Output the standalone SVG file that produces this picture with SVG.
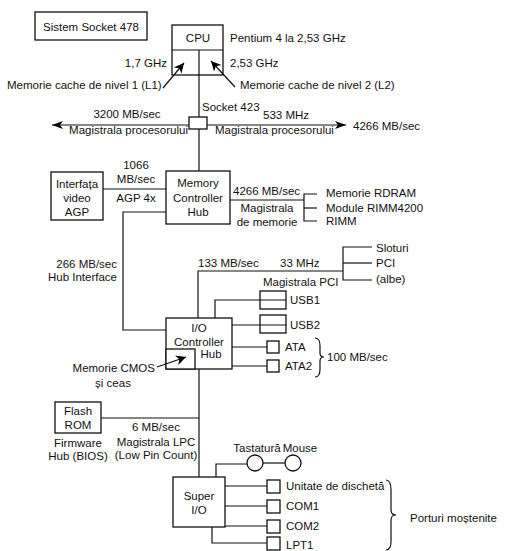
<svg xmlns="http://www.w3.org/2000/svg" width="512" height="551" viewBox="0 0 512 551">
<defs>
<marker id="arr" markerUnits="userSpaceOnUse" markerWidth="12" markerHeight="10" refX="11" refY="4" orient="auto-start-reverse">
<path d="M0,0 L11,4 L0,8 L3,4 z" fill="#000"/>
</marker>
<marker id="arrs" markerUnits="userSpaceOnUse" markerWidth="12" markerHeight="12" refX="10" refY="5" orient="auto">
<path d="M0,0 L10,5 L0,10 L3,5 z" fill="#000"/>
</marker>
<style>
text{font-family:"Liberation Sans",Arial,sans-serif;font-size:11.5px;fill:#111}
.m{text-anchor:middle}
.e{text-anchor:end}
.b{fill:#fff;stroke:#111;stroke-width:1.3}
.o{fill:none;stroke:#111;stroke-width:1.3}
.l{fill:none;stroke:#111;stroke-width:1.2}
</style>
</defs>
<rect width="512" height="551" fill="#fff"/>

<g id="title">
<rect class="b" x="35" y="12" width="112" height="28"/>
<text x="91" y="31" class="m">Sistem Socket 478</text>
</g>

<g id="cpu">
<rect class="b" x="172" y="25" width="51" height="50"/>
<line class="l" x1="172" y1="50" x2="223" y2="50"/>
<line class="l" x1="199" y1="50" x2="199" y2="75"/>
<text x="198" y="42" class="m">CPU</text>
<text x="230" y="42">Pentium 4 la 2,53 GHz</text>
<text x="167" y="67" class="e">1,7 GHz</text>
<text x="230" y="67">2,53 GHz</text>
<text x="7" y="89">Memorie cache de nivel 1 (L1)</text>
<text x="240" y="89">Memorie cache de nivel 2 (L2)</text>
</g>

<g id="socket">
<rect class="b" x="189" y="117" width="18" height="12"/>
<text x="202" y="111">Socket 423</text>
<text x="263" y="119">533 MHz</text>
<text x="127" y="118" class="m">3200 MB/sec</text>
<text x="188" y="134" class="e">Magistrala procesorului</text>
<text x="215" y="134">Magistrala procesorului</text>
<text x="353" y="130">4266 MB/sec</text>
</g>

<g id="mch">
<rect class="b" x="166" y="171" width="64" height="53"/>
<text x="198" y="187" class="m">Memory</text>
<text x="198" y="202" class="m">Controller</text>
<text x="198" y="216" class="m">Hub</text>
</g>

<g id="agp">
<rect class="b" x="51" y="172" width="52" height="48"/>
<text x="77" y="188" class="m">Interfața</text>
<text x="77" y="202" class="m">video</text>
<text x="77" y="216" class="m">AGP</text>
<text x="136" y="169" class="m">1066</text>
<text x="136" y="183" class="m">MB/sec</text>
<text x="136" y="202" class="m">AGP 4x</text>
</g>

<g id="memory">
<text x="233" y="195">4266 MB/sec</text>
<text x="267" y="212" class="m">Magistrala</text>
<text x="267" y="226" class="m">de memorie</text>
<text x="326" y="197">Memorie RDRAM</text>
<text x="326" y="212">Module RIMM4200</text>
<text x="326" y="225">RIMM</text>
</g>

<g id="hub-interface">
<text x="117" y="268" class="e">266 MB/sec</text>
<text x="117" y="281" class="e">Hub Interface</text>
</g>

<g id="ich">
<rect class="b" x="166" y="318" width="66" height="51"/>
<rect class="b" x="166" y="349" width="29" height="20"/>
<text x="199" y="332" class="m">I/O</text>
<text x="199" y="346" class="m">Controller</text>
<text x="211" y="358" class="m">Hub</text>
<text x="155" y="372" class="e">Memorie CMOS</text>
<text x="113" y="387" class="m">și ceas</text>
</g>

<g id="pci">
<text x="198" y="267">133 MB/sec</text>
<text x="280" y="267">33 MHz</text>
<text x="263" y="286">Magistrala PCI</text>
<text x="376" y="252">Sloturi</text>
<text x="376" y="267">PCI</text>
<text x="376" y="283">(albe)</text>
</g>

<g id="usb1">
<rect class="o" x="260" y="291" width="26" height="18"/>
<text x="290" y="304">USB1</text>
</g>
<g id="usb2">
<rect class="o" x="260" y="315" width="26" height="18"/>
<text x="290" y="329">USB2</text>
</g>
<g id="ata">
<rect class="b" x="267" y="341" width="12" height="12"/>
<text x="285" y="351">ATA</text>
</g>
<g id="ata2">
<rect class="b" x="267" y="360" width="12" height="12"/>
<text x="285" y="370">ATA2</text>
</g>
<g id="ata-speed">
<path class="l" d="M315,338 Q320,338 320,346 L320,353 Q320,357 324,357 Q320,357 320,361 L320,369 Q320,377 315,377"/>
<text x="327" y="361">100 MB/sec</text>
</g>

<g id="flash">
<rect class="b" x="55" y="402" width="46" height="31"/>
<text x="78" y="415" class="m">Flash</text>
<text x="78" y="429" class="m">ROM</text>
<text x="78" y="447" class="m">Firmware</text>
<text x="78" y="460" class="m">Hub (BIOS)</text>
</g>

<g id="lpc">
<text x="156" y="431" class="m">6 MB/sec</text>
<text x="156" y="446" class="m">Magistrala LPC</text>
<text x="156" y="459" class="m">(Low Pin Count)</text>
</g>

<g id="superio">
<rect class="b" x="173" y="477" width="52" height="50"/>
<text x="199" y="500" class="m">Super</text>
<text x="199" y="514" class="m">I/O</text>
</g>

<g id="keyboard">
<circle class="b" cx="255" cy="463" r="8"/>
<text x="257" y="452" class="m">Tastatură</text>
</g>
<g id="mouse">
<circle class="b" cx="293" cy="463" r="8"/>
<text x="300" y="452" class="m">Mouse</text>
</g>

<g id="floppy">
<rect class="b" x="267" y="480" width="13" height="13"/>
<text x="286" y="490">Unitate de dischetă</text>
</g>
<g id="com1">
<rect class="b" x="267" y="500" width="13" height="13"/>
<text x="286" y="510">COM1</text>
</g>
<g id="com2">
<rect class="b" x="267" y="520" width="13" height="13"/>
<text x="286" y="530">COM2</text>
</g>
<g id="lpt1">
<rect class="b" x="267" y="537" width="13" height="13"/>
<text x="286" y="549">LPT1</text>
</g>
<g id="legacy">
<path class="l" d="M386,480 Q391,480 391,490 L391,510 Q391,515 396,515 Q391,515 391,520 L391,541 Q391,550 386,550"/>
<text x="410" y="522">Porturi moștenite</text>
</g>

<g id="connectors">
<!-- processor bus -->
<line class="l" x1="199" y1="75" x2="199" y2="117"/>
<line class="l" x1="199" y1="129" x2="199" y2="171"/>
<line class="l" x1="52" y1="125" x2="189" y2="125" marker-start="url(#arr)"/>
<line class="l" x1="207" y1="125" x2="346" y2="125" marker-end="url(#arr)"/>
<!-- cache arrows -->
<line class="l" x1="163" y1="88" x2="184" y2="63" marker-end="url(#arrs)"/>
<line class="l" x1="235" y1="87" x2="211" y2="61" marker-end="url(#arrs)"/>
<!-- AGP -->
<line class="l" x1="103" y1="189" x2="166" y2="189"/>
<!-- memory bus -->
<polyline class="l" points="230,200 304,200"/>
<polyline class="l" points="317,194 304,194 304,221 317,221"/>
<line class="l" x1="304" y1="208" x2="317" y2="208"/>
<!-- hub interface -->
<polyline class="l" points="166,212 123,212 123,330 166,330"/>
<!-- PCI -->
<polyline class="l" points="198,318 198,271 343,271"/>
<polyline class="l" points="372,247 343,247 343,280 372,280"/>
<line class="l" x1="343" y1="263" x2="372" y2="263"/>
<!-- USB -->
<polyline class="l" points="215,318 215,300 286,300"/>
<line class="l" x1="232" y1="325" x2="286" y2="325"/>
<!-- ATA -->
<line class="l" x1="232" y1="347" x2="267" y2="347"/>
<line class="l" x1="232" y1="366" x2="267" y2="366"/>
<!-- CMOS arrow -->
<line class="l" x1="157" y1="367" x2="186" y2="357" marker-end="url(#arrs)"/>
<!-- ICH to Super I/O -->
<line class="l" x1="199" y1="369" x2="199" y2="477"/>
<!-- LPC -->
<line class="l" x1="101" y1="418" x2="199" y2="418"/>
<!-- keyboard/mouse -->
<polyline class="l" points="216,477 216,464 247,464"/>
<line class="l" x1="263" y1="463" x2="285" y2="463"/>
<!-- legacy ports -->
<line class="l" x1="225" y1="486" x2="267" y2="486"/>
<line class="l" x1="225" y1="506" x2="267" y2="506"/>
<line class="l" x1="225" y1="526" x2="267" y2="526"/>
<polyline class="l" points="212,527 212,543 267,543"/>
</g>
</svg>
